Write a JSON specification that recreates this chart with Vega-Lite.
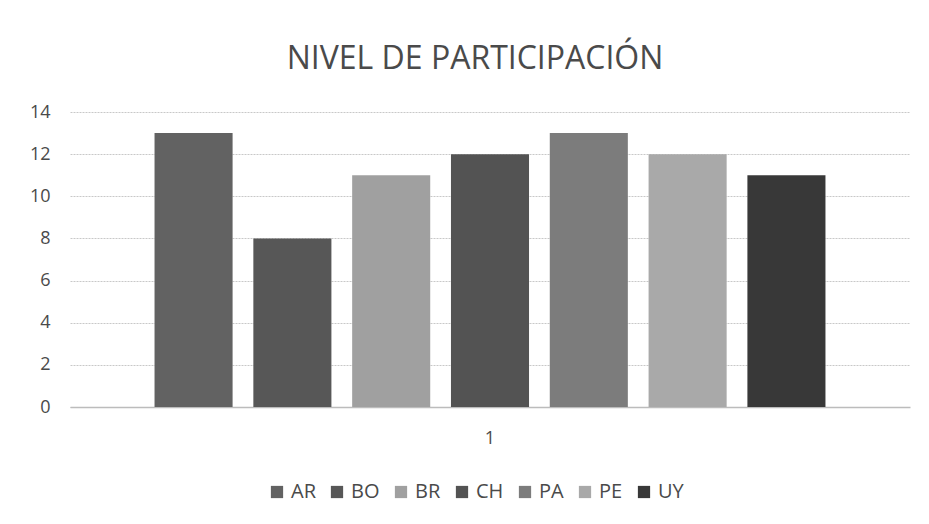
{
  "$schema": "https://vega.github.io/schema/vega-lite/v6.json",
  "width": 840,
  "height": 295,
  "autosize": {"type": "none"},
  "padding": {"left": 70, "top": 112, "right": 19, "bottom": 117},
  "background": "white",
  "title": {
    "text": "NIVEL DE PARTICIPACIÓN",
    "fontSize": 32,
    "font": "Open Sans",
    "fontWeight": "normal",
    "color": "#4a4a4a",
    "anchor": "middle",
    "offset": 27,
    "dx": -15
  },
  "data": {
    "values": [
      {"serie": "1", "pais": "AR", "valor": 13},
      {"serie": "1", "pais": "BO", "valor": 8},
      {"serie": "1", "pais": "BR", "valor": 11},
      {"serie": "1", "pais": "CH", "valor": 12},
      {"serie": "1", "pais": "PA", "valor": 13},
      {"serie": "1", "pais": "PE", "valor": 12},
      {"serie": "1", "pais": "UY", "valor": 11}
    ]
  },
  "mark": {"type": "bar"},
  "encoding": {
    "x": {
      "field": "serie",
      "type": "nominal",
      "scale": {"paddingInner": 0, "paddingOuter": 0.126},
      "axis": {
        "title": null,
        "labelAngle": 0,
        "labelFontSize": 18,
        "labelFont": "Open Sans",
        "labelColor": "#4a4a4a",
        "labelPadding": 22,
        "ticks": false,
        "domainColor": "#bcbcbc",
        "domainWidth": 1.5
      }
    },
    "xOffset": {
      "field": "pais",
      "type": "nominal",
      "scale": {"paddingInner": 0.21, "paddingOuter": 0}
    },
    "y": {
      "field": "valor",
      "type": "quantitative",
      "scale": {"domain": [0, 14]},
      "axis": {
        "title": null,
        "values": [0, 2, 4, 6, 8, 10, 12, 14],
        "domain": false,
        "ticks": false,
        "labelFontSize": 18,
        "labelFont": "Open Sans",
        "labelColor": "#4a4a4a",
        "labelPadding": 20,
        "gridColor": "#c8c8c8",
        "gridDash": [2, 1],
        "gridWidth": 1
      }
    },
    "color": {
      "field": "pais",
      "type": "nominal",
      "scale": {
        "domain": ["AR", "BO", "BR", "CH", "PA", "PE", "UY"],
        "range": ["#626262", "#575757", "#a0a0a0", "#535353", "#7c7c7c", "#a9a9a9", "#383838"]
      },
      "legend": {
        "title": null,
        "orient": "none",
        "legendX": 197,
        "legendY": 370,
        "direction": "horizontal",
        "columns": 7,
        "symbolType": "square",
        "symbolSize": 150,
        "symbolStrokeWidth": 0,
        "labelFontSize": 20,
        "labelFont": "Open Sans",
        "labelColor": "#4a4a4a",
        "labelOffset": 4,
        "columnPadding": 11
      }
    }
  },
  "config": {
    "view": {"stroke": null}
  }
}
